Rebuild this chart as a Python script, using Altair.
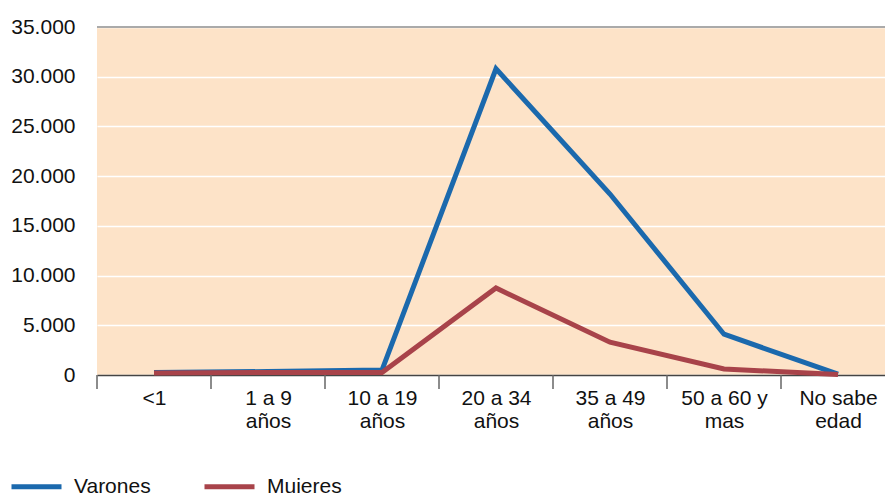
import altair as alt
import pandas as pd

categories = ["<1", "1 a 9 años", "10 a 19 años", "20 a 34 años", "35 a 49 años", "50 a 60 y mas", "No sabe edad"]
varones = [250, 350, 500, 30800, 18200, 4100, 80]
mujeres = [200, 250, 250, 8750, 3300, 600, 50]
series = ["Varones", "Mujeres"]
y_ticks = [0, 5000, 10000, 15000, 20000, 25000, 30000, 35000]

rows = []
for c, v in zip(categories, varones):
    rows.append({"edad": c, "serie": "Varones", "valor": v})
for c, m in zip(categories, mujeres):
    rows.append({"edad": c, "serie": "Mujeres", "valor": m})
df = pd.DataFrame(rows)
cat_df = pd.DataFrame({"edad": categories})

FONT = "Liberation Sans"
W = 788          # visible plot width inside the page
H = 348
SPAN = 798       # full band span (plot continues past the right page edge)
STEP = SPAN / len(categories)

x_scale = alt.Scale(type="point", domain=categories, padding=0.5, range=[0, SPAN])

x_enc = alt.X(
    "edad:N",
    sort=categories,
    scale=x_scale,
    axis=alt.Axis(
        title=None,
        labelAngle=0,
        labelFont=FONT,
        labelFontSize=21,
        labelColor="#111111",
        labelPadding=12,
        labelLineHeight=23,
        labelExpr="indexof(datum.value, ' ') < 0 ? datum.value : [slice(datum.value, 0, lastindexof(datum.value, ' ')), slice(datum.value, lastindexof(datum.value, ' ') + 1)]",
        ticks=False,
        domainColor="#444444",
        domainWidth=1.5,
        grid=False,
    ),
)

y_enc = alt.Y(
    "valor:Q",
    scale=alt.Scale(domain=[0, 35000], nice=False),
    axis=alt.Axis(
        title=None,
        values=y_ticks,
        labelExpr="datum.value >= 1000 ? floor(datum.value / 1000) + '.000' : '' + datum.value",
        labelFont=FONT,
        labelFontSize=21,
        labelColor="#111111",
        labelPadding=22,
        ticks=False,
        domain=False,
        grid=True,
        gridColor="#ffffff",
        gridWidth=1.5,
    ),
)

lines = alt.Chart(df).mark_line(strokeWidth=5, strokeJoin="miter").encode(
    x=x_enc,
    y=y_enc,
    color=alt.Color(
        "serie:N",
        scale=alt.Scale(domain=series, range=["#1b69ad", "#a8434a"]),
        legend=alt.Legend(
            title=None,
            orient="none",
            legendX=-88,
            legendY=432,
            direction="horizontal",
            symbolType="stroke",
            symbolSize=2500,
            symbolStrokeWidth=5,
            labelFont=FONT,
            labelFontSize=21,
            labelColor="#111111",
            labelOffset=10,
            columnPadding=43,
        ),
    ),
)

ticks = alt.Chart(cat_df).mark_rule(color="#666666", strokeWidth=1.5, xOffset=-STEP / 2).encode(
    x=alt.X("edad:N", sort=categories, scale=x_scale),
    y=alt.value(H),
    y2=alt.value(H + 14),
)

top_line = alt.Chart(cat_df).mark_rule(color="#aaaaaa", strokeWidth=1.5).encode(
    x=alt.value(0), x2=alt.value(W), y=alt.value(0)
)

chart = alt.layer(lines, ticks, top_line).properties(
    width=W,
    height=H,
    padding={"left": 89, "top": 19, "right": 0, "bottom": 118},
    autosize=alt.AutoSizeParams(type="none"),
).configure_view(
    fill="#fde3c8",
    stroke=None,
)

chart.save("out.html", embed_options={"renderer": "svg", "actions": False})
